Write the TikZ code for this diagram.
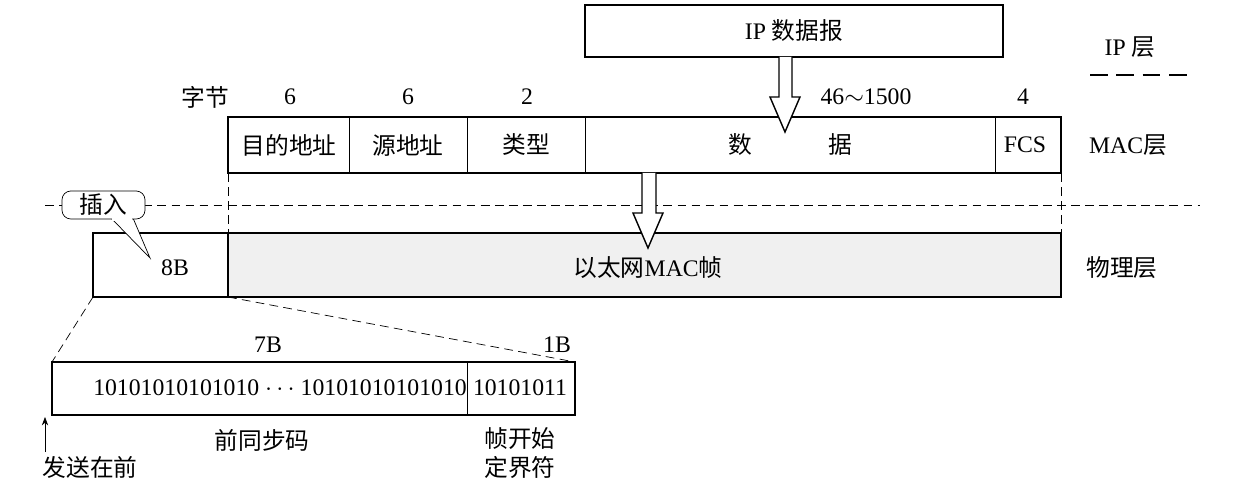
\documentclass[tikz,border=0pt]{standalone}
\usepackage{fontspec}
\setmainfont{Liberation Serif}
\newfontfamily\cjk{Noto Sans CJK SC}
\usetikzlibrary{arrows.meta}
\begin{document}
\begin{tikzpicture}[x=0.02cm,y=-0.02cm,font=\fontsize{13.5}{16}\selectfont,>=Stealth,
  box/.style={draw,thick},
  lbl/.style={inner sep=1pt},
  longdash/.style={dash pattern=on 5pt off 3pt},
  blockarrow/.style={draw,fill=white,thick}]
\useasboundingbox (0,0) rectangle (1233,496);
% IP layer
\draw[box] (585,5) rectangle (1003,57);
\node[lbl] (ip) at (794,31) {IP {\cjk 数据报}};
\node[lbl] (iplayer) at (1130,47) {IP {\cjk 层}};
\draw[dash pattern=on 10pt off 5pt,thick] (1090,75) -- (1190,75);
% byte counts
\node[lbl] at (205,97) {\cjk 字节};
\node[lbl] at (290,97) {6};
\node[lbl] at (408,97) {6};
\node[lbl] at (527,97) {2};
\node[lbl] at (866,97) {46$\sim$1500};
\node[lbl] at (1023,97) {4};
% MAC frame
\draw[box] (228,117) rectangle (1061,173);
\foreach \x in {349,467,585,995} \draw (\x,117) -- (\x,173);
\node[lbl] (dst) at (289,145) {\cjk 目的地址};
\node[lbl] (src) at (408,145) {\cjk 源地址};
\node[lbl] (type) at (526,145) {\cjk 类型};
\node[lbl] at (740,145) {\cjk 数};
\node[lbl] at (840,145) {\cjk 据};
\node[lbl] (fcs) at (1025,145) {FCS};
\node[lbl] (maclayer) at (1128,145) {MAC{\cjk 层}};
% block arrows
\draw[blockarrow] (779,57) -- (779,97) -- (770,97) -- (785,132) -- (800,97) -- (792,97) -- (792,57);
% layer boundary
\draw[longdash] (45,205) -- (1200,205);
\draw[longdash] (228,173) -- (228,233);
\draw[longdash] (1061,173) -- (1061,233);
% physical layer
\fill[gray!12] (228,233) rectangle (1061,297);
\draw[box] (93,233) rectangle (1061,297);
\draw[thick] (228,233) -- (228,297);
\draw[blockarrow] (642,173) -- (642,213) -- (633,213) -- (648,248) -- (663,213) -- (656,213) -- (656,173);
\node[lbl] (pre) at (175,268) {8B};
\node[lbl] (frame) at (648,268) {{\cjk 以太网}MAC{\cjk 帧}};
\node[lbl] (phylayer) at (1122,268) {\cjk 物理层};
% callout
\draw[fill=white] (111,218) -- (150,258) -- (133,218);
\draw[rounded corners=5pt,fill=white] (62,191) rectangle (145,219);
\fill[white] (112,216) rectangle (132,221);
\node[lbl] (insert) at (103,205) {\cjk 插入};
% preamble detail
\draw[longdash] (93,297) -- (52,362);
\draw[longdash] (228,297) -- (575,362);
\draw[box] (52,362) rectangle (575,415);
\draw (467,362) -- (467,415);
\node[lbl] at (268,345) {7B};
\node[lbl] at (557,345) {1B};
\node[lbl] (sync) at (280,388) {10101010101010 $\cdots$ 10101010101010};
\node[lbl] (sfd) at (520,388) {10101011};
\coordinate (first) at (45,417);
\node[lbl] (sendfirst) at (90,467) {\cjk 发送在前};
\draw[->] (45,452) -- (first);
\node[lbl] at (262,440) {\cjk 前同步码};
\node[lbl,align=center] at (520,453) {\cjk 帧开始\\\cjk 定界符};
\end{tikzpicture}
\end{document}
